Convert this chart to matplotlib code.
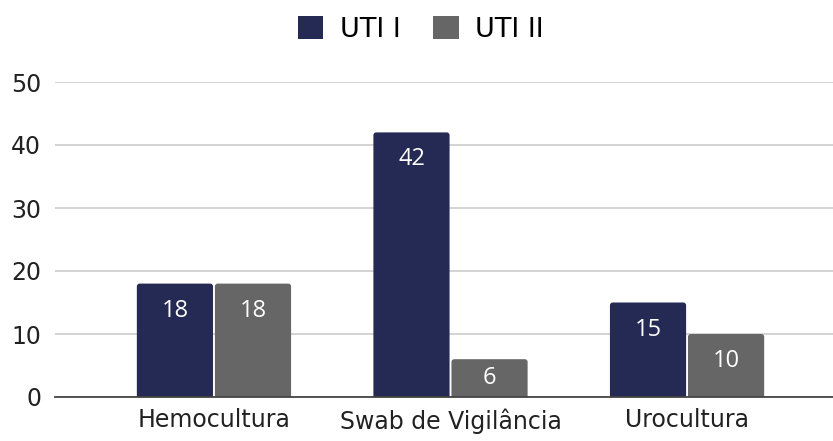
import matplotlib.pyplot as plt
import numpy as np
from matplotlib.patches import FancyBboxPatch

plt.rcParams['font.family'] = 'DejaVu Sans'

# culture types and counts per ICU
categorias = ['Hemocultura', 'Swab de Vigilância', 'Urocultura']
uti1 = [18, 42, 15]
uti2 = [18, 6, 10]

cor1 = '#252a55'
cor2 = '#666666'

fig = plt.figure(figsize=(8.33, 4.41), dpi=100)
ax = fig.add_axes([55 / 833, 1 - 397 / 441, 1 - 55 / 833, (397 - 82) / 441])

x = np.arange(len(categorias))
w = 0.322
b1 = ax.bar(x - 0.165, uti1, w, color=cor1, label='UTI I', zorder=3)
b2 = ax.bar(x + 0.165, uti2, w, color=cor2, label='UTI II', zorder=3)

ax.set_ylim(0, 50)
ax.set_xlim(-0.672, 2.617)

# swap plain rectangles for ones with slightly rounded tops
for barras in (b1, b2):
    for r in barras:
        r.set_visible(False)
        h = r.get_height()
        p = FancyBboxPatch((r.get_x(), -1), r.get_width(), h + 1,
                           boxstyle='round,pad=0,rounding_size=0.012',
                           mutation_aspect=37, facecolor=r.get_facecolor(),
                           edgecolor='none', zorder=3)
        ax.add_patch(p)
        # value label near the top, centred for short bars
        yc = max(h - 4.3, h / 2)
        ax.text(r.get_x() + r.get_width() / 2, yc, str(int(h)),
                ha='center', va='center', color='white', fontsize=17,
                family='Open Sans', zorder=4)

ax.set_yticks([0, 10, 20, 30, 40, 50])
ax.set_xticks(x)
ax.set_xticklabels(categorias)
ax.tick_params(axis='both', length=0, labelsize=17, colors='#222222')
ax.tick_params(axis='y', pad=10)
ax.tick_params(axis='x', pad=8)
ax.grid(axis='y', color='#cccccc', linewidth=1.2, zorder=0)
for s in ['top', 'right', 'left']:
    ax.spines[s].set_visible(False)
ax.spines['bottom'].set_color('#444444')
ax.spines['bottom'].set_linewidth(1.3)
ax.spines['bottom'].set_zorder(5)

fig.legend(handles=[b1, b2], labels=['UTI I', 'UTI II'], loc='upper center',
           bbox_to_anchor=(0.505, 1.02), ncol=2, frameon=False,
           fontsize=19.5, handlelength=0.95, handleheight=0.95, columnspacing=1.2,
           handletextpad=0.6)
for h in fig.legends[0].legend_handles:
    h.set_visible(True)

plt.savefig('out.png')
